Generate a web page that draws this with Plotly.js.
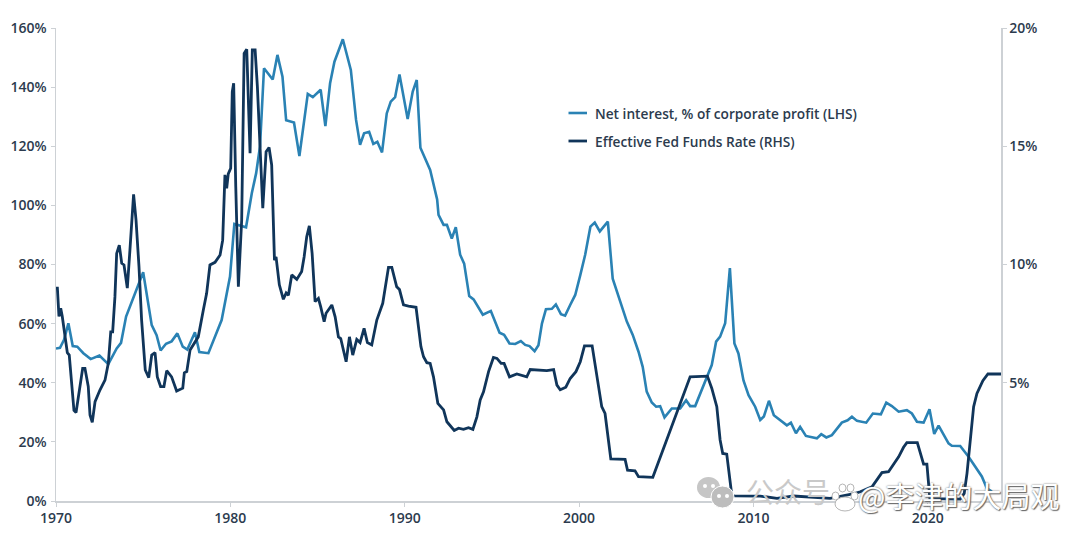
<!DOCTYPE html>
<html>
<head>
<meta charset="utf-8">
<script src="https://cdn.plot.ly/plotly-3.0.1.min.js"></script>
<style>html,body{margin:0;padding:0;background:#fff}#chart{width:1080px;height:536px}</style>
</head>
<body>
<div id="chart"></div>
<script>
const netInterestYears = [1970.0,1970.23,1970.46,1970.71,1970.96,1971.22,1971.57,1971.99,1972.49,1973.0,1973.48,1973.73,1974.02,1974.82,1975.0,1975.49,1975.77,1976.0,1976.31,1976.63,1976.96,1977.27,1977.53,1977.97,1978.22,1978.74,1979.12,1979.5,1979.98,1980.23,1980.9,1981.23,1981.48,1981.7,1981.93,1982.43,1982.7,1982.99,1983.2,1983.65,1983.96,1984.44,1984.73,1985.18,1985.45,1985.72,1985.97,1986.45,1986.91,1987.21,1987.44,1987.67,1987.96,1988.2,1988.43,1988.7,1988.97,1989.2,1989.45,1989.7,1990.17,1990.46,1990.69,1990.9,1991.46,1991.86,1991.94,1992.23,1992.42,1992.7,1992.93,1993.18,1993.41,1993.7,1993.95,1994.48,1994.94,1995.44,1995.7,1996.01,1996.34,1996.66,1996.91,1997.16,1997.45,1997.67,1997.87,1998.1,1998.44,1998.67,1998.96,1999.2,1999.49,1999.78,2000.07,2000.35,2000.65,2000.9,2001.19,2001.65,2001.93,2002.2,2002.45,2002.74,2003.08,2003.41,2003.65,2003.88,2004.17,2004.42,2004.65,2004.9,2005.32,2005.8,2006.14,2006.37,2006.66,2007.04,2007.61,2007.86,2008.09,2008.38,2008.65,2008.91,2009.14,2009.43,2009.72,2010.1,2010.39,2010.6,2010.89,2011.17,2011.5,2011.92,2012.15,2012.44,2012.68,2013.01,2013.64,2013.89,2014.18,2014.5,2015.07,2015.4,2015.65,2015.94,2016.47,2016.85,2017.31,2017.62,2017.94,2018.33,2018.8,2019.09,2019.38,2019.76,2020.1,2020.37,2020.62,2021.19,2021.38,2021.86,2022.34,2022.82,2023.1,2023.39,2023.68];
const netInterestValues = [51.6,51.8,54.5,60.1,52.4,52.2,50,48,49.2,46.3,51.6,53.5,62.4,74.2,77.4,59.5,56.1,50.9,53.2,54,56.7,52.2,51.2,57.1,50.4,50,55.6,61.2,75.9,93.7,92.6,104.1,110.9,119.9,146.4,142.6,150.9,143.5,128.8,128,116.7,137.7,136.6,139.1,126.8,141.3,148.6,156.2,145.8,128.9,120.5,124.4,124.9,120.8,121.5,117.9,131.1,135.1,136.6,144.3,129.2,138.5,142.4,119.5,112,102,96.8,93.4,93.4,88.8,92.6,83.3,80.3,69.3,68.2,63,64.3,56.9,56.2,53.3,53.1,54.1,52.8,52.4,50.7,52.7,60,64.9,65,66.5,63.2,62.7,66.3,69.7,76.4,83.3,92.8,94.2,91.2,94.5,75.2,70.2,65.7,60.7,56.2,50.5,45.4,37,33.3,31.9,32.1,28.3,31.3,31.3,34.1,32.1,32.1,37.5,46,53.9,55.6,60.1,78.8,53.3,49.9,40.8,35.8,31.9,27.4,28.6,33.9,29,27.6,25.6,26.5,22.9,25.1,22,21.2,22.6,21.5,22.3,26.5,27.3,28.5,27.1,26.5,29.6,29.3,33.3,32.1,30.2,30.7,29.6,26.8,26.5,31,22.7,25.5,19.5,18.7,18.6,15,11,8.3,4.3,3.2];

const fedFundsYears = [1970.0,1970.08,1970.17,1970.27,1970.36,1970.52,1970.65,1970.76,1970.9,1971.03,1971.15,1971.38,1971.53,1971.66,1971.85,1971.95,1972.08,1972.24,1972.52,1972.81,1973.0,1973.14,1973.25,1973.38,1973.48,1973.63,1973.77,1973.9,1974.02,1974.09,1974.24,1974.45,1974.59,1974.76,1974.91,1975.12,1975.32,1975.49,1975.68,1975.81,1976,1976.19,1976.35,1976.63,1976.92,1977.27,1977.36,1977.5,1977.69,1978.16,1978.45,1978.64,1978.83,1979.12,1979.41,1979.56,1979.69,1979.79,1979.88,1980.02,1980.11,1980.19,1980.31,1980.46,1980.65,1980.79,1980.94,1981.13,1981.26,1981.42,1981.55,1981.7,1981.86,1982.05,1982.22,1982.37,1982.53,1982.62,1982.81,1983.04,1983.2,1983.33,1983.52,1983.81,1984.09,1984.23,1984.38,1984.53,1984.69,1984.86,1985.05,1985.18,1985.38,1985.49,1985.82,1986.01,1986.2,1986.33,1986.64,1986.83,1987.02,1987.25,1987.44,1987.67,1987.86,1988.11,1988.4,1988.74,1989.07,1989.26,1989.54,1989.7,1989.93,1990.22,1990.65,1990.93,1991.08,1991.27,1991.46,1991.65,1991.9,1992.23,1992.42,1992.84,1993.09,1993.37,1993.66,1993.91,1994.14,1994.33,1994.52,1994.81,1995.09,1995.29,1995.53,1995.7,1996.01,1996.43,1997.0,1997.2,1998.15,1998.54,1998.73,1998.92,1999.24,1999.49,1999.82,2000.07,2000.31,2000.75,2001.02,2001.3,2001.49,2001.82,2002.64,2002.78,2003.21,2003.41,2004.23,2004.84,2005.6,2006.37,2007.36,2007.61,2007.9,2008.09,2008.24,2008.47,2008.76,2008.9,2010.39,2011.35,2012.3,2012.88,2014.4,2015.84,2016.13,2016.8,2017.37,2017.75,2018.33,2018.61,2018.8,2019.4,2019.62,2019.76,2019.95,2020.08,2020.12,2021.86,2022.09,2022.25,2022.44,2022.63,2022.82,2023.16,2023.45,2024.2];
const fedFundsValues = [9.0,9.0,7.8,8.15,7.8,6.95,6.27,6.17,4.85,3.83,3.74,4.77,5.61,5.61,4.84,3.64,3.33,4.2,4.69,5.11,5.82,7.15,7.15,8.63,10.47,10.82,10.05,9.98,9.2,9,10.61,12.97,11.88,9.91,7.65,5.54,5.22,6.17,6.27,5.25,4.84,4.84,5.51,5.25,4.65,4.77,5.42,5.47,6.39,6.94,8.08,8.78,9.98,10.09,10.4,11.03,13.79,13.22,13.83,14.07,17.3,17.66,13.3,9.06,11.88,18.93,19.1,14.71,19.07,19.07,17.52,14.71,12.38,14.77,14.95,14.21,10.18,10.32,9.14,8.53,8.8,8.7,9.56,9.37,9.7,10.32,11.17,11.63,10.47,8.43,8.57,8.22,7.58,7.94,8.29,7.79,6.94,6.87,5.89,6.94,6.17,6.83,6.7,7.3,6.7,6.6,7.65,8.36,9.88,9.88,9.06,8.94,8.29,8.24,8.19,6.53,6.1,5.85,5.82,5.25,4.13,3.85,3.35,2.98,3.08,3.03,3.1,3.03,3.56,4.27,4.62,5.47,6.07,6.03,5.82,5.82,5.25,5.37,5.25,5.56,5.51,5.56,4.9,4.7,4.81,5.18,5.47,5.89,6.56,6.56,5.32,3.99,3.7,1.78,1.76,1.3,1.28,1.03,1.0,2.23,3.7,5.25,5.28,4.77,3.99,2.58,2.01,1.98,.25,.22,.21,.11,.21,.18,.11,.32,.39,.6,1.2,1.24,1.87,2.27,2.47,2.47,1.87,1.56,1.56,.54,.1,.08,.32,1.17,2.72,3.99,4.55,5.09,5.37,5.37];

const leftTicks = [0,20,40,60,80,100,120,140,160];
const leftLabels = ['0%','20%','40%','60%','80%','100%','120%','140%','160%'];
const rightTicks = [5,10,15,20];
const rightLabels = ['5%','10%','15%','20%'];
const xTicks = [1970,1980,1990,2000,2010,2020];
const seriesNames = ['Net interest, % of corporate profit (LHS)','Effective Fed Funds Rate (RHS)'];
const watermarkLeft = '公众号';
const watermarkRight = '@李津的大局观';

const BLUE = '#2a82b4', NAVY = '#10355a', AXIS = '#cdd1d5', TXT = '#2c3b4e';
const FONT = '"Open Sans", sans-serif';
const tf = {family: FONT, size: 14, color: TXT, weight: 600};

/* page pixel -> paper fraction of the plot area, for legend and watermark furniture */
const L = 56, R = 1001, T = 28, B = 501;
const fx = p => (p - L) / (R - L);
const fy = p => (B - p) / (B - T);
const disc = (x0, y0, x1, y1, fill, stroke) => ({type: 'circle', xref: 'paper', yref: 'paper', layer: 'above',
  x0: fx(x0), x1: fx(x1), y0: fy(y1), y1: fy(y0), fillcolor: fill, line: {color: stroke || fill, width: stroke ? 1 : 0}});
const legendLine = (py, color, w) => ({type: 'line', xref: 'paper', yref: 'paper', x0: fx(568.5), x1: fx(587), y0: fy(py), y1: fy(py), line: {color: color, width: w}});

const traces = [
  {x: netInterestYears, y: netInterestValues, name: seriesNames[0], type: 'scatter', mode: 'lines', yaxis: 'y',
   line: {color: BLUE, width: 2.6}},
  {x: fedFundsYears, y: fedFundsValues, name: seriesNames[1], type: 'scatter', mode: 'lines', yaxis: 'y2',
   line: {color: NAVY, width: 2.8}}
];

const axisCommon = {showgrid: false, zeroline: false, showline: true, linecolor: AXIS, linewidth: 1.5,
  ticks: 'outside', ticklen: 4, tickwidth: 1, tickcolor: AXIS, tickfont: tf};

const layout = {
  width: 1080, height: 536, showlegend: false,
  paper_bgcolor: '#fff', plot_bgcolor: '#fff',
  margin: {l: L, r: 1080 - R, t: T, b: 536 - B, pad: 0},
  xaxis: Object.assign({}, axisCommon, {range: [1970, 2024.2], tickmode: 'array', tickvals: xTicks, ticktext: xTicks.map(String)}),
  yaxis: Object.assign({}, axisCommon, {range: [0, 160], tickmode: 'array', tickvals: leftTicks, ticktext: leftLabels, ticklabelstandoff: 1}),
  yaxis2: Object.assign({}, axisCommon, {range: [0, 20], overlaying: 'y', side: 'right', tickmode: 'array', tickvals: rightTicks, ticktext: rightLabels}),
  shapes: [
    legendLine(113, BLUE, 2.6),
    legendLine(141, NAVY, 2.8),
    disc(697, 477, 720, 498, '#c6c6c6'),
    disc(703, 484, 707, 488, '#ffffff'),
    disc(711, 484, 715, 488, '#ffffff'),
    disc(711, 486, 734, 508, '#bdbdbd', '#ffffff'),
    disc(717, 494, 721, 498, '#ffffff'),
    disc(725, 494, 729, 498, '#ffffff'),
    disc(832, 492, 839, 500, '#ffffff', '#b5b5b5'),
    disc(839, 484, 846, 492, '#ffffff', '#b5b5b5'),
    disc(847, 484, 854, 492, '#ffffff', '#b5b5b5'),
    disc(851, 492, 858, 500, '#ffffff', '#b5b5b5'),
    disc(835, 497, 855, 511, '#ffffff', '#b5b5b5')
  ],
  annotations: [
    {xref: 'paper', yref: 'paper', x: fx(593), y: fy(113), xanchor: 'left', yanchor: 'middle', showarrow: false, text: seriesNames[0], font: {family: FONT, size: 13.7, color: TXT, weight: 600}},
    {xref: 'paper', yref: 'paper', x: fx(593), y: fy(141), xanchor: 'left', yanchor: 'middle', showarrow: false, text: seriesNames[1], font: {family: FONT, size: 13.7, color: TXT, weight: 600}},
    {xref: 'paper', yref: 'paper', x: fx(744), y: fy(491), xanchor: 'left', yanchor: 'middle', showarrow: false, text: watermarkLeft, font: {family: '"Noto Sans CJK SC"', size: 28, color: '#c9c9c9'}},
    {xref: 'paper', yref: 'paper', x: fx(856), y: fy(495), xanchor: 'left', yanchor: 'middle', showarrow: false, text: watermarkRight, font: {family: '"Noto Sans CJK SC"', size: 29, color: '#ffffff', shadow: '0 0 2px #666, 1px 1px 1px #666'}}
  ]
};

Plotly.newPlot('chart', traces, layout, {displayModeBar: false, staticPlot: true});
</script>
</body>
</html>
